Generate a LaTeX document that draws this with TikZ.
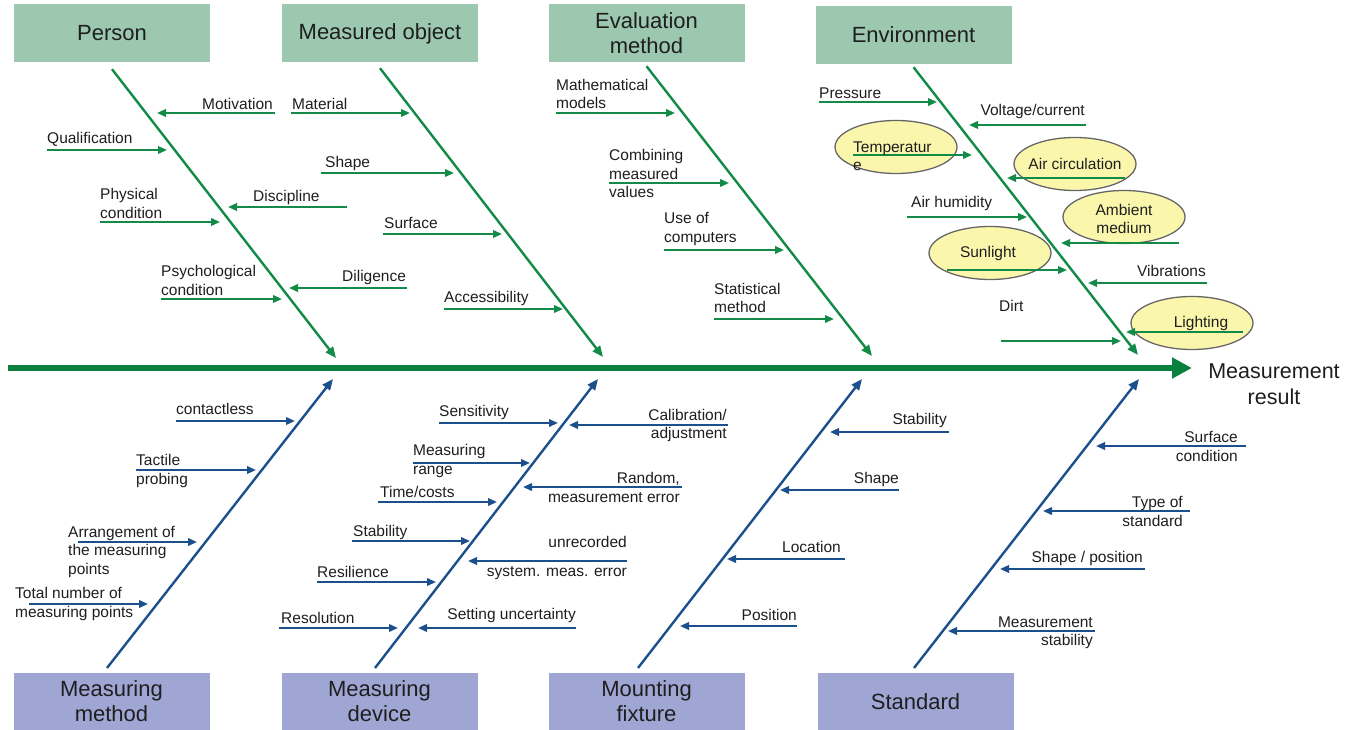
\documentclass[tikz,border=0pt]{standalone}
\usepackage{fontspec}
\setmainfont{Liberation Sans}
\usetikzlibrary{arrows.meta,shapes.geometric}

\definecolor{fishgreen}{RGB}{18,138,72}
\definecolor{spinegreen}{RGB}{10,128,62}
\definecolor{fishblue}{RGB}{28,80,140}
\definecolor{headgreen}{RGB}{157,200,176}
\definecolor{headblue}{RGB}{160,166,212}
\definecolor{bubble}{RGB}{250,247,172}
\definecolor{ink}{RGB}{30,30,30}

% a horizontal cause arrow: style, name, tail x, head x, y
\newcommand\rib[5]{%
  \coordinate (#2-t) at (#3,#5);
  \coordinate (#2-h) at (#4,#5);
  \draw[#1] (#2-t) -- (#2-h);}

\begin{document}
\begin{tikzpicture}[x=1pt,y=-1pt,
  lbl/.style={font=\fontsize{15.5}{18.5}\selectfont, text=ink, inner sep=0pt},
  headbox/.style={minimum width=196pt, minimum height=58pt, inner sep=0pt,
    font=\fontsize{22}{25}\selectfont, text=ink, align=center},
  tophead/.style={headbox, fill=headgreen},
  bothead/.style={headbox, fill=headblue},
  topbone/.style={draw=fishgreen, line width=2.4pt, -{Triangle[length=11pt,width=9pt]}},
  botbone/.style={draw=fishblue, line width=2.4pt, -{Triangle[length=11pt,width=9pt]}},
  grib/.style={draw=fishgreen, line width=2pt, -{Triangle[length=9pt,width=7.5pt]}},
  brib/.style={draw=fishblue, line width=2pt, -{Triangle[length=9pt,width=7.5pt]}},
  spine/.style={draw=spinegreen, line width=6pt, -{Triangle[length=20pt,width=20pt]}},
  bubblenode/.style={ellipse, draw=black!60, line width=1.3pt, fill=bubble,
    inner sep=0pt, minimum width=122pt, minimum height=53pt}
]
\useasboundingbox (0,0) rectangle (1357,730);

% ---------- category boxes ----------
\node[tophead] (person) at (112,33) {Person};
\node[tophead] (object) at (380,33.5) {Measured object};
\node[tophead] (evaluation) at (646.5,33) {Evaluation\\method};
\node[tophead] (environment) at (913.5,35) {Environment};
\node[bothead] (mmethod) at (111.5,701.5) {Measuring\\method};
\node[bothead] (mdevice) at (379.5,701.5) {Measuring\\device};
\node[bothead] (fixture) at (646.5,701.5) {Mounting\\fixture};
\node[bothead] (standard) at (915.5,701.5) {Standard};

% ---------- main spine ----------
\coordinate (spine-start) at (8,368);
\coordinate (spine-end) at (1192,368);
\draw[spine] (spine-start) -- (spine-end);
\node[font=\fontsize{21.5}{26}\selectfont, align=center, text=ink, inner sep=0pt]
  (result) at (1274,384) {Measurement\\result};

% ---------- upper bones ----------
\coordinate (person-tip) at (336,358);
\coordinate (object-tip) at (603,357);
\coordinate (evaluation-tip) at (872,356);
\coordinate (environment-tip) at (1138,355);
\draw[topbone] (person.south) ++(0,7) -- (person-tip);
\draw[topbone] (object.south) ++(0,5.5) -- (object-tip);
\draw[topbone] (evaluation.south) ++(0,4) -- (evaluation-tip);
\draw[topbone] (environment.south) ++(0,3) -- (environment-tip);

% ---------- lower bones ----------
\coordinate (mmethod-root) at (107,668);
\coordinate (mdevice-root) at (375,668);
\coordinate (fixture-root) at (638,668);
\coordinate (standard-root) at (914,668);
\coordinate (mmethod-tip) at (333,379);
\coordinate (mdevice-tip) at (598,379);
\coordinate (fixture-tip) at (862,379);
\coordinate (standard-tip) at (1139,379);
\draw[botbone] (mmethod-root) -- (mmethod-tip);
\draw[botbone] (mdevice-root) -- (mdevice-tip);
\draw[botbone] (fixture-root) -- (fixture-tip);
\draw[botbone] (standard-root) -- (standard-tip);

% ---------- Person ----------
\rib{grib}{motivation}{275}{157}{113}
\node[lbl,anchor=east] (motivation) at (273,104) {Motivation};
\rib{grib}{qualification}{47}{167}{150}
\node[lbl,anchor=west] (qualification) at (47,139) {Qualification};
\rib{grib}{physical}{100}{220}{222}
\node[lbl,anchor=west,align=left] (physical) at (100,203.5) {Physical\\condition};
\rib{grib}{discipline}{347}{228}{207}
\node[lbl,anchor=west] (discipline) at (253,197) {Discipline};
\rib{grib}{psycho}{161}{282}{299}
\node[lbl,anchor=west,align=left] (psycho) at (161,280.5) {Psychological\\condition};
\rib{grib}{diligence}{407}{289}{288}
\node[lbl,anchor=west] (diligence) at (342,277) {Diligence};

% ---------- Measured object ----------
\rib{grib}{material}{291}{410}{113}
\node[lbl,anchor=west] (material) at (292,104) {Material};
\rib{grib}{oshape}{321}{454}{173}
\node[lbl,anchor=west] (oshape) at (325,163) {Shape};
\rib{grib}{surface}{383}{502}{234}
\node[lbl,anchor=west] (surface) at (384,223) {Surface};
\rib{grib}{access}{444}{563}{309}
\node[lbl,anchor=west] (access) at (444,298) {Accessibility};

% ---------- Evaluation method ----------
\rib{grib}{models}{556}{675}{113}
\node[lbl,anchor=west,align=left] (models) at (556,94) {Mathematical\\models};
\rib{grib}{combining}{609}{729}{183}
\node[lbl,anchor=west,align=left] (combining) at (609,173.5) {Combining\\measured\\values};
\rib{grib}{computers}{664}{784}{250}
\node[lbl,anchor=west,align=left] (computers) at (664,229) {Use of\\computers};
\rib{grib}{statistical}{714}{834}{319}
\node[lbl,anchor=west,align=left] (statistical) at (714,298) {Statistical\\method};

% ---------- Environment ----------
\node[bubblenode] (temperature-b) at (896,147) {};
\node[bubblenode] (aircirc-b) at (1075,164) {};
\node[bubblenode] (ambient-b) at (1124,217) {};
\node[bubblenode] (sunlight-b) at (990,253) {};
\node[bubblenode] (lighting-b) at (1192,323) {};

\rib{grib}{pressure}{819}{937}{102}
\node[lbl,anchor=west] (pressure) at (819,93) {Pressure};
\rib{grib}{voltage}{1086}{969}{125}
\node[lbl,anchor=east] (voltage) at (1085,111) {Voltage/current};
\rib{grib}{temperature}{853}{972}{155}
\node[lbl,anchor=west,align=left] (temperature) at (853,156) {Temperatur\\e};
\rib{grib}{aircirc}{1125}{1007}{178}
\node[lbl] (aircirc) at (1075,164) {Air circulation};
\rib{grib}{humidity}{907}{1027}{217}
\node[lbl,anchor=west] (humidity) at (911,203) {Air humidity};
\rib{grib}{ambient}{1179}{1061}{243}
\node[lbl,align=center] (ambient) at (1124,219) {Ambient\\medium};
\rib{grib}{sunlight}{947}{1067}{270}
\node[lbl] (sunlight) at (988,253) {Sunlight};
\rib{grib}{vibrations}{1207}{1088}{283}
\node[lbl,anchor=east] (vibrations) at (1206,271) {Vibrations};
\rib{grib}{dirt}{1001}{1121}{341}
\node[lbl,anchor=west] (dirt) at (999,306) {Dirt};
\rib{grib}{lighting}{1243}{1126}{332}
\node[lbl] (lighting) at (1201,323) {Lighting};

% ---------- Measuring method ----------
\rib{brib}{contactless}{176}{295}{421}
\node[lbl,anchor=west] (contactless) at (176,409) {contactless};
\rib{brib}{tactile}{136}{256}{470}
\node[lbl,anchor=west,align=left] (tactile) at (136,471) {Tactile\\probing};
\rib{brib}{arrangement}{78}{197}{542}
\node[lbl,anchor=west,align=left] (arrangement) at (68,551.5) {Arrangement of\\the measuring\\points};
\rib{brib}{total}{29}{148}{604}
\node[lbl,anchor=west,align=left] (total) at (15,604) {Total number of\\measuring points};

% ---------- Measuring device ----------
\rib{brib}{sensitivity}{439}{558}{423}
\node[lbl,anchor=west] (sensitivity) at (439,412) {Sensitivity};
\rib{brib}{calibration}{728}{569}{425}
\node[lbl,anchor=east,align=right] (calibration) at (727,425.5) {Calibration/\\adjustment};
\rib{brib}{range}{413}{530}{463}
\node[lbl,anchor=west,align=left] (range) at (413,461) {Measuring\\range};
\rib{brib}{random}{682}{523}{487}
\node[lbl,anchor=east,align=right] (random) at (680,487.5) {Random,\\measurement error};
\rib{brib}{timecost}{378}{497}{502}
\node[lbl,anchor=west] (timecost) at (380,492) {Time/costs};
\rib{brib}{dstability}{352}{470}{541}
\node[lbl,anchor=west] (dstability) at (353,532) {Stability};
\rib{brib}{unrecorded}{627}{468}{561}
\node[lbl,anchor=east,align=right] (unrecorded) at (627,558) {unrecorded\\[10.5pt]system. meas. error};
\rib{brib}{resilience}{317}{436}{582}
\node[lbl,anchor=west] (resilience) at (317,572) {Resilience};
\rib{brib}{resolution}{279}{398}{628}
\node[lbl,anchor=west] (resolution) at (281,618) {Resolution};
\rib{brib}{setting}{576}{418}{628}
\node[lbl,anchor=east] (setting) at (576,615) {Setting uncertainty};

% ---------- Mounting fixture ----------
\rib{brib}{fstability}{949}{830}{432}
\node[lbl,anchor=east] (fstability) at (947,420) {Stability};
\rib{brib}{fshape}{899}{780}{490}
\node[lbl,anchor=east] (fshape) at (899,479) {Shape};
\rib{brib}{location}{845}{727}{559}
\node[lbl,anchor=east] (location) at (841,547) {Location};
\rib{brib}{position}{797}{680}{626}
\node[lbl,anchor=east] (position) at (797,615) {Position};

% ---------- Standard ----------
\rib{brib}{surfcond}{1246}{1096}{446}
\node[lbl,anchor=east,align=right] (surfcond) at (1238,446.5) {Surface\\condition};
\rib{brib}{stdtype}{1190}{1043}{511}
\node[lbl,anchor=east,align=right] (stdtype) at (1183,511.5) {Type of\\standard};
\rib{brib}{shapepos}{1145}{1000}{569}
\node[lbl,anchor=east] (shapepos) at (1143,558) {Shape / position};
\rib{brib}{mstability}{1095}{948}{631}
\node[lbl,anchor=east,align=right] (mstability) at (1093,633) {Measurement\\stability};

\end{tikzpicture}
\end{document}
